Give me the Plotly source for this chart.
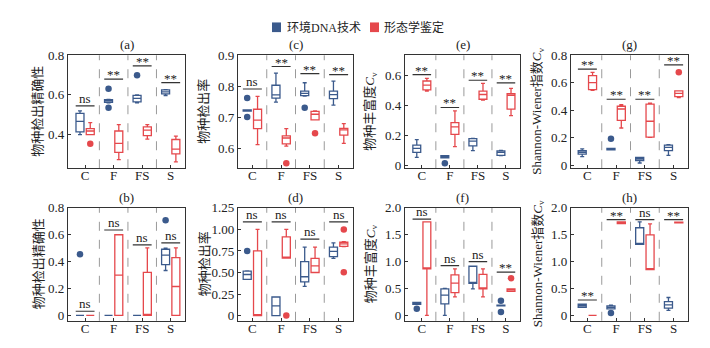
import plotly.graph_objects as go

W, H = 710, 348
CATEGORIES = ["C", "F", "FS", "S"]
SERIES = ["环境DNA技术", "形态学鉴定"]
BLUE = "#3B5A8C"
RED = "#E5484C"
FONT = "Liberation Serif, Noto Sans CJK SC, serif"

# five-number summaries per category: [lower, q1, median, q3, upper]
a_edna = [[0.400, 0.414, 0.466, 0.507, 0.519], [0.560, 0.562, 0.570, 0.576, 0.578],
          [0.560, 0.565, 0.583, 0.598, 0.600], [0.597, 0.605, 0.615, 0.625, 0.627]]
a_morph = [[0.400, 0.400, 0.418, 0.430, 0.460], [0.273, 0.310, 0.355, 0.418, 0.450],
           [0.377, 0.395, 0.422, 0.439, 0.450], [0.262, 0.303, 0.326, 0.375, 0.392]]
a_edna_out = [(1, 0.631), (1, 0.535), (2, 0.699)]
a_morph_out = [(0, 0.353)]
a_sig = ["ns", "**", "**", "**"]
a_sig_y = [0.545, 0.680, 0.747, 0.662]

c_edna = [[0.721, 0.721, 0.723, 0.725, 0.725], [0.750, 0.763, 0.773, 0.804, 0.843],
          [0.769, 0.771, 0.778, 0.785, 0.812], [0.740, 0.761, 0.774, 0.785, 0.817]]
c_morph = [[0.614, 0.665, 0.692, 0.727, 0.768], [0.609, 0.616, 0.635, 0.642, 0.665],
           [0.693, 0.693, 0.711, 0.720, 0.722], [0.618, 0.644, 0.661, 0.666, 0.681]]
c_edna_out = [(0, 0.763), (0, 0.702), (2, 0.732)]
c_morph_out = [(1, 0.554), (2, 0.650)]
c_sig = ["ns", "**", "**", "**"]
c_sig_y = [0.792, 0.864, 0.841, 0.838]

e_edna = [[0.053, 0.086, 0.113, 0.135, 0.171], [0.050, 0.050, 0.057, 0.064, 0.064],
          [0.098, 0.129, 0.161, 0.178, 0.180], [0.064, 0.066, 0.086, 0.096, 0.100]]
e_morph = [[0.495, 0.504, 0.536, 0.563, 0.580], [0.124, 0.206, 0.257, 0.285, 0.364],
           [0.435, 0.441, 0.473, 0.495, 0.547], [0.332, 0.375, 0.467, 0.478, 0.514]]
e_edna_out = [(1, 0.013)]
e_morph_out = []
e_sig = ["**", "**", "**", "**"]
e_sig_y = [0.606, 0.386, 0.568, 0.550]

g_edna = [[0.065, 0.082, 0.096, 0.108, 0.120], [0.113, 0.113, 0.120, 0.124, 0.124],
          [0.018, 0.035, 0.047, 0.058, 0.058], [0.073, 0.108, 0.131, 0.148, 0.152]]
g_morph = [[0.545, 0.551, 0.601, 0.652, 0.676], [0.272, 0.328, 0.410, 0.430, 0.441],
           [0.205, 0.206, 0.321, 0.446, 0.453], [0.493, 0.500, 0.523, 0.542, 0.542]]
g_edna_out = [(1, 0.194)]
g_morph_out = [(3, 0.676)]
g_sig = ["**", "**", "**", "**"]
g_sig_y = [0.699, 0.481, 0.481, 0.730]

b_edna = [[0, 0, 0, 0, 0], [0, 0, 0, 0, 0],
          [0, 0, 0, 0, 0], [0.334, 0.377, 0.449, 0.492, 0.500]]
b_morph = [[0, 0, 0, 0, 0], [0, 0, 0.300, 0.600, 0.600],
           [0, 0, 0, 0.320, 0.502], [0, 0, 0.215, 0.430, 0.502]]
b_edna_out = [(0, 0.454), (3, 0.707)]
b_morph_out = []
b_sig = ["ns", "ns", "ns", "ns"]
b_sig_y = [0.031, 0.635, 0.525, 0.540]

d_edna = [[0.420, 0.420, 0.477, 0.515, 0.520], [0, 0, 0.112, 0.216, 0.216],
          [0.339, 0.392, 0.451, 0.627, 0.795], [0.664, 0.683, 0.746, 0.795, 0.843]]
d_morph = [[0, 0, 0, 0.750, 1.000], [0.667, 0.667, 0.667, 0.914, 1.000],
           [0.500, 0.500, 0.578, 0.664, 0.795], [0.800, 0.802, 0.832, 0.851, 0.857]]
d_edna_out = [(0, 0.750)]
d_morph_out = [(1, 0.0), (3, 1.0), (3, 0.504)]
d_sig = ["ns", "ns", "ns", "ns"]
d_sig_y = [1.086, 1.086, 0.888, 1.086]

f_edna = [[0.208, 0.208, 0.220, 0.244, 0.244], [0, 0.215, 0.376, 0.495, 0.500],
          [0.495, 0.597, 0.597, 0.914, 0.914], [0.180, 0.180, 0.185, 0.190, 0.190]]
f_morph = [[0, 0.866, 0.866, 1.738, 1.738], [0.346, 0.423, 0.600, 0.753, 0.866],
           [0.346, 0.495, 0.495, 0.764, 0.866], [0.448, 0.448, 0.480, 0.495, 0.495]]
f_edna_out = [(0, 0.125), (3, 0.274), (3, 0.065)]
f_morph_out = [(3, 0.692)]
f_sig = ["ns", "ns", "ns", "**"]
f_sig_y = [1.79, 0.925, 1.0, 0.806]

h_edna = [[0.149, 0.149, 0.180, 0.208, 0.208], [0.120, 0.120, 0.149, 0.179, 0.190],
          [1.319, 1.319, 1.319, 1.630, 1.738], [0.095, 0.136, 0.197, 0.256, 0.333]]
h_morph = [[0, 0, 0, 0, 0], [1.708, 1.708, 1.720, 1.738, 1.738],
           [0.853, 0.853, 0.853, 1.498, 1.700], [1.720, 1.720, 1.730, 1.735, 1.735]]
h_edna_out = [(1, 0.047)]
h_morph_out = []
h_sig = ["**", "**", "ns", "**"]
h_sig_y = [0.287, 1.78, 1.78, 1.78]

# axis tick values / labels
a_ticks, a_ticktext = [0.4, 0.6, 0.8], ["0.4", "0.6", "0.8"]
c_ticks, c_ticktext = [0.6, 0.7, 0.8, 0.9], ["0.6", "0.7", "0.8", "0.9"]
e_ticks, e_ticktext = [0, 0.2, 0.4, 0.6], ["0", "0.2", "0.4", "0.6"]
g_ticks, g_ticktext = [0, 0.2, 0.4, 0.6, 0.8], ["0", "0.2", "0.4", "0.6", "0.8"]
b_ticks, b_ticktext = [0, 0.2, 0.4, 0.6, 0.8], ["0", "0.2", "0.4", "0.6", "0.8"]
d_ticks, d_ticktext = [0, 0.25, 0.5, 0.75, 1.0, 1.25], ["0", "0.25", "0.50", "0.75", "1.00", "1.25"]
f_ticks, f_ticktext = [0, 0.5, 1.0, 1.5, 2.0], ["0", "0.5", "1.0", "1.5", "2.0"]
h_ticks, h_ticktext = [0, 0.5, 1.0, 1.5, 2.0], ["0", "0.5", "1.0", "1.5", "2.0"]

y_title_precision = "物种检出精确性"
y_title_rate = "物种检出率"
y_title_rich = "物种丰富度<i>C</i><sub>v</sub>"
y_title_shannon = "Shannon-Wiener指数<i>C</i><sub>v</sub>"

# layout (pixels)
col_px = [(68, 185), (238, 353), (405, 520), (571, 688)]
row_px = [(50, 167), (208, 325)]
xranges = [[-0.6, 3.5], [-0.5, 3.5], [-0.6, 3.5], [-0.57, 3.5]]
ytitle_x = [38, 204, 371, 538]

panels = [
    ("(a)", a_edna, a_morph, a_edna_out, a_morph_out, a_sig, a_sig_y, [0.23, 0.8], a_ticks, a_ticktext, y_title_precision, 0, 0),
    ("(c)", c_edna, c_morph, c_edna_out, c_morph_out, c_sig, c_sig_y, [0.538, 0.9], c_ticks, c_ticktext, y_title_rate, 0, 1),
    ("(e)", e_edna, e_morph, e_edna_out, e_morph_out, e_sig, e_sig_y, [-0.02, 0.735], e_ticks, e_ticktext, y_title_rich, 0, 2),
    ("(g)", g_edna, g_morph, g_edna_out, g_morph_out, g_sig, g_sig_y, [-0.02, 0.8], g_ticks, g_ticktext, y_title_shannon, 0, 3),
    ("(b)", b_edna, b_morph, b_edna_out, b_morph_out, b_sig, b_sig_y, [-0.04, 0.8], b_ticks, b_ticktext, y_title_precision, 1, 0),
    ("(d)", d_edna, d_morph, d_edna_out, d_morph_out, d_sig, d_sig_y, [-0.06, 1.25], d_ticks, d_ticktext, y_title_rate, 1, 1),
    ("(f)", f_edna, f_morph, f_edna_out, f_morph_out, f_sig, f_sig_y, [-0.1, 2.0], f_ticks, f_ticktext, y_title_rich, 1, 2),
    ("(h)", h_edna, h_morph, h_edna_out, h_morph_out, h_sig, h_sig_y, [-0.1, 2.0], h_ticks, h_ticktext, y_title_shannon, 1, 3),
]

OFF = 0.18
BOXW = 0.28

fig = go.Figure()
shapes, annotations = [], []
layout_axes = {}

for k, (label, edna, morph, edna_out, morph_out, sig, sig_y, yr, yt, ytt, ytitle, r, c) in enumerate(panels):
    n = k + 1
    xa = "x" if n == 1 else f"x{n}"
    ya = "y" if n == 1 else f"y{n}"
    xkey = "xaxis" if n == 1 else f"xaxis{n}"
    ykey = "yaxis" if n == 1 else f"yaxis{n}"
    x0p, x1p = col_px[c]
    y0p, y1p = row_px[r]
    layout_axes[xkey] = dict(
        domain=[x0p / W, x1p / W], range=xranges[c], anchor=ya,
        tickvals=list(range(len(CATEGORIES))), ticktext=CATEGORIES,
        showline=True, mirror=True, linecolor="#333", linewidth=1.3,
        ticks="inside", ticklen=3, tickcolor="#333", showgrid=False, zeroline=False,
        ticklabelstandoff=-5,
        tickfont=dict(family=FONT, size=13, color="#222"),
    )
    layout_axes[ykey] = dict(
        domain=[1 - y1p / H, 1 - y0p / H], range=yr, anchor=xa,
        tickvals=yt, ticktext=ytt,
        showline=True, mirror=True, linecolor="#333", linewidth=1.3,
        ticks="inside", ticklen=3, tickcolor="#333", showgrid=False, zeroline=False,
        tickfont=dict(family=FONT, size=13, color="#222"),
    )
    # boxes
    for stats, off, color in ((edna, -OFF, BLUE), (morph, OFF, RED)):
        fig.add_trace(go.Box(
            x=[i + off for i in range(len(CATEGORIES))],
            lowerfence=[s[0] for s in stats], q1=[s[1] for s in stats],
            median=[s[2] for s in stats], q3=[s[3] for s in stats],
            upperfence=[s[4] for s in stats],
            width=BOXW, whiskerwidth=0.5, boxpoints=False,
            line=dict(color=color, width=1.3), fillcolor="rgba(255,255,255,0)",
            xaxis=xa, yaxis=ya, showlegend=False, hoverinfo="skip",
        ))
    for pts, off, color in ((edna_out, -OFF, BLUE), (morph_out, OFF, RED)):
        if pts:
            fig.add_trace(go.Scatter(
                x=[p[0] + off for p in pts], y=[p[1] for p in pts], mode="markers",
                marker=dict(color=color, size=6.5), xaxis=xa, yaxis=ya,
                showlegend=False, hoverinfo="skip", cliponaxis=False,
            ))
    # dividers
    for i in range(len(CATEGORIES) - 1):
        shapes.append(dict(type="line", xref=xa, yref=f"{ya} domain", x0=i + 0.5, x1=i + 0.5,
                           y0=0, y1=1, line=dict(color="#9a9a9a", width=1, dash="dash"), layer="below"))
    # significance brackets
    for i, (txt, yv) in enumerate(zip(sig, sig_y)):
        shapes.append(dict(type="line", xref=xa, yref=ya, x0=i - 0.33, x1=i + 0.33, y0=yv, y1=yv,
                           line=dict(color="#333", width=1.2)))
        annotations.append(dict(text=txt, xref=xa, yref=ya, x=i, y=yv, showarrow=False,
                                yanchor="bottom", yshift=(-5 if txt == "**" else -2),
                                font=dict(family=FONT, size=13, color="#222")))
    # panel title
    annotations.append(dict(text=label, xref="paper", yref="paper", x=(x0p + x1p) / 2 / W,
                            y=1 - (y0p - 11) / H, showarrow=False, xanchor="center", yanchor="middle",
                            font=dict(family=FONT, size=13, color="#222")))
    # y title
    annotations.append(dict(text=ytitle, xref="paper", yref="paper", x=ytitle_x[c] / W,
                            y=1 - (y0p + y1p) / 2 / H, showarrow=False, textangle=-90,
                            xanchor="center", yanchor="middle",
                            font=dict(family=FONT, size=13, color="#222")))

# manual legend
for (sx, tx), name, color in zip(((272, 286), (370, 383)), SERIES, (BLUE, RED)):
    shapes.append(dict(type="rect", xref="paper", yref="paper", x0=sx / W, x1=(sx + 9) / W,
                       y0=1 - 26 / H, y1=1 - 16 / H, fillcolor=color, line=dict(width=0)))
    annotations.append(dict(text=name, xref="paper", yref="paper", x=tx / W, y=1 - 21 / H,
                            showarrow=False, xanchor="left", yanchor="middle", borderpad=0,
                            font=dict(family=FONT, size=12, color="#222")))

fig.update_layout(
    width=W, height=H, margin=dict(l=0, r=0, t=0, b=0),
    paper_bgcolor="white", plot_bgcolor="white", showlegend=False,
    boxmode="overlay", shapes=shapes, annotations=annotations,
    font=dict(family=FONT, size=13, color="#222"),
    **layout_axes,
)

fig.write_html("out.html")
